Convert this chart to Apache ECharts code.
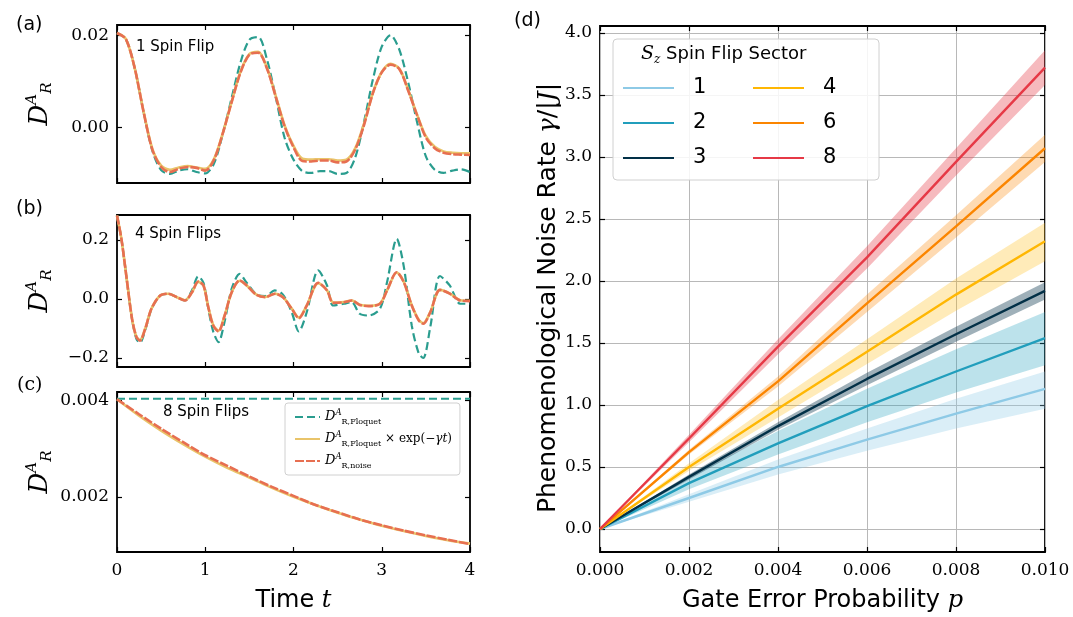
<!DOCTYPE html>
<html><head><meta charset="utf-8">
<script src="https://cdn.jsdelivr.net/npm/echarts@6/dist/echarts.min.js"></script>
<style>html,body{margin:0;padding:0;background:#fff}#c{width:1073px;height:617px}</style>
</head><body><div id="c"></div>
<script>
// ---------- Panel (a): 1 spin flip ----------
const timeA = [0,0.1,0.2,0.3,0.4,0.5,0.6,0.7,0.8,0.9,1.0,1.1,1.2,1.3,1.4,1.5,1.6,1.7,1.8,1.9,2.0,2.1,2.2,2.3,2.4,2.5,2.6,2.7,2.8,2.9,3.0,3.1,3.2,3.3,3.4,3.5,3.6,3.7,3.8,3.9,4.0];
const aFloquet = [0.0206,0.0193,0.0130,0.0035,-0.0050,-0.0093,-0.0101,-0.0094,-0.0091,-0.0097,-0.0100,-0.0078,-0.0013,0.0065,0.0142,0.0191,0.0197,0.0148,0.0065,-0.0023,-0.0070,-0.0095,-0.0099,-0.0095,-0.0095,-0.0101,-0.0099,-0.0065,0.0013,0.0105,0.0176,0.0201,0.0169,0.0098,0.0012,-0.0063,-0.0092,-0.0099,-0.0094,-0.0091,-0.0097];
const aExp = [0.0206,0.0193,0.0130,0.0036,-0.0046,-0.0083,-0.0092,-0.0087,-0.0084,-0.0087,-0.0090,-0.0068,-0.0011,0.0057,0.0122,0.0160,0.0165,0.0130,0.0068,0.0004,-0.0040,-0.0068,-0.0070,-0.0069,-0.0069,-0.0072,-0.0070,-0.0045,0.0009,0.0076,0.0121,0.0139,0.0128,0.0082,0.0028,-0.0019,-0.0042,-0.0052,-0.0055,-0.0056,-0.0056];
const aNoise = [0.0206,0.0193,0.0130,0.0035,-0.0048,-0.0086,-0.0097,-0.0090,-0.0086,-0.0088,-0.0094,-0.0070,-0.0012,0.0056,0.0120,0.0159,0.0163,0.0128,0.0066,0.0002,-0.0043,-0.0073,-0.0074,-0.0072,-0.0072,-0.0076,-0.0074,-0.0048,0.0006,0.0075,0.0120,0.0137,0.0127,0.0080,0.0027,-0.0022,-0.0045,-0.0055,-0.0058,-0.0059,-0.0060];

// ---------- Panel (b): 4 spin flips ----------
const timeB = [0,0.05,0.11,0.17,0.22,0.26,0.32,0.39,0.49,0.58,0.68,0.77,0.85,0.92,0.98,1.03,1.09,1.15,1.22,1.30,1.39,1.47,1.58,1.68,1.79,1.88,1.98,2.06,2.15,2.28,2.38,2.45,2.57,2.66,2.75,2.85,2.98,3.06,3.17,3.25,3.34,3.42,3.47,3.55,3.66,3.77,3.89,4.0];
const bFloquet = [0.283,0.204,0.068,-0.067,-0.135,-0.148,-0.105,-0.035,0.012,0.018,0.006,-0.005,0.030,0.077,0.055,-0.025,-0.110,-0.146,-0.075,0.035,0.085,0.055,0.016,0.010,0.029,0.015,-0.045,-0.110,-0.045,0.097,0.046,-0.022,-0.016,-0.011,-0.050,-0.056,-0.033,0.057,0.204,0.110,-0.090,-0.185,-0.200,-0.095,0.078,0.046,-0.016,-0.016];
const bExp = [0.283,0.204,0.068,-0.066,-0.128,-0.139,-0.100,-0.033,0.012,0.018,0.006,-0.004,0.023,0.058,0.046,-0.021,-0.088,-0.108,-0.055,0.023,0.062,0.046,0.015,0.007,0.018,0.007,-0.032,-0.063,-0.022,0.054,0.030,-0.012,-0.010,-0.005,-0.019,-0.023,-0.015,0.029,0.090,0.058,-0.021,-0.071,-0.082,-0.044,0.031,0.019,-0.004,-0.006];
const bNoise = [0.283,0.204,0.068,-0.067,-0.129,-0.141,-0.101,-0.033,0.012,0.018,0.006,-0.005,0.023,0.059,0.046,-0.022,-0.090,-0.110,-0.056,0.023,0.063,0.046,0.014,0.006,0.018,0.006,-0.033,-0.065,-0.022,0.055,0.029,-0.013,-0.011,-0.005,-0.020,-0.024,-0.016,0.029,0.091,0.057,-0.022,-0.073,-0.084,-0.045,0.031,0.018,-0.005,-0.007];

// ---------- Panel (c): 8 spin flips ----------
const timeC = [0,0.25,0.5,0.75,1.0,1.25,1.5,1.75,2.0,2.25,2.5,2.75,3.0,3.25,3.5,3.75,4.0];
const cFloquet = [0.00403,0.00403,0.00403,0.00403,0.00403,0.00403,0.00403,0.00403,0.00403,0.00403,0.00403,0.00403,0.00403,0.00403,0.00403,0.00403,0.00403];
const cExp = [0.00402,0.00368,0.00337,0.00309,0.00283,0.00260,0.00240,0.00219,0.00200,0.00183,0.00167,0.00153,0.00140,0.00129,0.00119,0.00110,0.00103];
const cNoise = [0.00402,0.00371,0.00341,0.00313,0.00286,0.00264,0.00242,0.00221,0.00202,0.00183,0.00168,0.00153,0.00141,0.00130,0.00120,0.00111,0.00102];

// ---------- Panel (d): noise rate vs gate error ----------
const pAxis = [0, 0.002, 0.004, 0.006, 0.008, 0.010];
const sectorNames = ['1','2','3','4','6','8'];
const sec1 = [0, 0.25, 0.50, 0.72, 0.93, 1.13];
const sec1Lo = [0, 0.22, 0.44, 0.63, 0.81, 0.97];
const sec1Hi = [0, 0.28, 0.56, 0.81, 1.05, 1.27];
const sec2 = [0, 0.37, 0.69, 0.99, 1.27, 1.54];
const sec2Lo = [0, 0.32, 0.60, 0.86, 1.10, 1.32];
const sec2Hi = [0, 0.42, 0.79, 1.13, 1.45, 1.75];
const sec3 = [0, 0.42, 0.83, 1.21, 1.57, 1.92];
const sec3Lo = [0, 0.40, 0.80, 1.16, 1.51, 1.85];
const sec3Hi = [0, 0.44, 0.86, 1.26, 1.63, 1.99];
const sec4 = [0, 0.50, 0.97, 1.43, 1.89, 2.32];
const sec4Lo = [0, 0.47, 0.90, 1.33, 1.76, 2.16];
const sec4Hi = [0, 0.53, 1.04, 1.53, 2.02, 2.47];
const sec6 = [0, 0.62, 1.19, 1.82, 2.44, 3.07];
const sec6Lo = [0, 0.60, 1.15, 1.75, 2.35, 2.96];
const sec6Hi = [0, 0.64, 1.23, 1.89, 2.53, 3.18];
const sec8 = [0, 0.73, 1.47, 2.19, 2.96, 3.72];
const sec8Lo = [0, 0.70, 1.41, 2.10, 2.85, 3.58];
const sec8Hi = [0, 0.76, 1.53, 2.28, 3.07, 3.86];

const ticksA = [0, 0.02];
const ticksB = [-0.2, 0.0, 0.2];
const ticksC = [0.002, 0.004];
const ticksDY = [0,0.5,1.0,1.5,2.0,2.5,3.0,3.5,4.0];

// ---------- styling ----------
const TEAL = '#2a9d8f', YEL = '#e9c46a', ORG = '#e76f51';
const secColors = ['#8ecae6','#219ebc','#023047','#ffb703','#fb8500','#e63946'];
const secBand = ['rgba(142,202,230,0.33)','rgba(33,158,188,0.3)','rgba(2,48,71,0.38)','rgba(255,183,3,0.28)','rgba(251,133,0,0.3)','rgba(230,57,70,0.35)'];
const SERIF = 'DejaVu Serif', SANS = 'DejaVu Sans';
const minus = s => String(s).replace('-', '\u2212');

const grids = [
  {left:117, top:25, width:353, height:158},
  {left:117, top:215, width:353, height:152},
  {left:117, top:392, width:353, height:160},
  {left:600, top:26, width:445, height:526}
].map(g => Object.assign({show:true, borderColor:'#000', borderWidth:1.8, backgroundColor:'transparent',
  containLabel:false, outerBoundsMode:'none'}, g));

const tickStyle = {inside:true, length:5, lineStyle:{color:'#000', width:1.2}};
const labelStyle = {color:'#000', fontFamily:SERIF, fontSize:17};

function xAxisPair(gi, min, max, interval, showLabel, fmt, split, name) {
  const base = {type:'value', gridIndex:gi, min, max, interval, axisLine:{show:false, onZero:false}};
  return [
    Object.assign({}, base, {position:'bottom',
      axisTick:Object.assign({}, tickStyle),
      axisLabel:Object.assign({show:showLabel, margin:10, formatter:fmt}, labelStyle),
      splitLine:{show:split, lineStyle:{color:'#b8b8b8', width:1}},
      name:name || '', nameLocation:'middle', nameGap:37,
      nameTextStyle:{fontFamily:SANS, fontSize:24, color:'#000', rich:{i:{fontFamily:SERIF, fontStyle:'italic', fontSize:24, color:'#000'}}}
    }),
    Object.assign({}, base, {position:'top', axisTick:Object.assign({}, tickStyle), axisLabel:{show:false}, splitLine:{show:false}})
  ];
}
function yAxisPair(gi, min, max, ticks, fmt, split, name, nameGap, nameStyle) {
  const base = {type:'value', gridIndex:gi, min, max, axisLine:{show:false, onZero:false}};
  return [
    Object.assign({}, base, {position:'left',
      axisTick:Object.assign({customValues:ticks}, tickStyle),
      axisLabel:Object.assign({customValues:ticks, margin:8, formatter:fmt}, labelStyle),
      splitLine:{show:split, lineStyle:{color:'#b8b8b8', width:1}},
      name:name, nameLocation:'middle', nameRotate:90, nameGap:nameGap, nameTextStyle:nameStyle
    }),
    Object.assign({}, base, {position:'right', axisTick:Object.assign({customValues:ticks}, tickStyle), axisLabel:{show:false}, splitLine:{show:false}})
  ];
}
const dName = {fontFamily:SERIF, color:'#000', rich:{
  d:{fontFamily:SERIF, fontStyle:'italic', fontSize:26, color:'#000', lineHeight:30},
  s:{fontFamily:SERIF, fontStyle:'italic', fontSize:15, color:'#000', verticalAlign:'top', lineHeight:30},
  r:{fontFamily:SERIF, fontStyle:'italic', fontSize:15, color:'#000', verticalAlign:'bottom', lineHeight:30}}};
const DR = '{d|D}{s|A}{r|R}';

const xAxes = [].concat(
  xAxisPair(0, 0, 4, 1, false, v=>v, false),
  xAxisPair(1, 0, 4, 1, false, v=>v, false),
  xAxisPair(2, 0, 4, 1, true, v=>String(v), false, 'Time {i|t}'),
  xAxisPair(3, 0, 0.01, 0.002, true, v=>v.toFixed(3), true, 'Gate Error Probability {i|p}')
);
const yAxes = [].concat(
  yAxisPair(0, -0.01209, 0.02233, ticksA, v=>v.toFixed(2), false, DR, 62, dName),
  yAxisPair(1, -0.2306, 0.285, ticksB, v=>minus(v.toFixed(1)), false, DR, 62, dName),
  yAxisPair(2, 0.000857, 0.00417, ticksC, v=>v.toFixed(3), false, DR, 62, dName),
  yAxisPair(3, -0.1855, 4.056, ticksDY, v=>v.toFixed(1), true, '', 39, {})
);

function pairs(ts, vs) { return ts.map((t, i) => [t, vs[i]]); }
function lineSeries(name, axis, ts, vs, color, width, type, z, smooth) {
  return {name, type:'line', xAxisIndex:axis*2, yAxisIndex:axis*2, data:pairs(ts, vs), showSymbol:false, symbol:'none',
    smooth: smooth, z:z, animation:false, lineStyle:{color, width, type}, itemStyle:{color}, clip:true};
}

const series = [];
// (a)
series.push(lineSeries('aF', 0, timeA, aFloquet, TEAL, 2.2, [8,4], 2, 0.3));
series.push(lineSeries('aE', 0, timeA, aExp, YEL, 2.6, 'solid', 3, 0.3));
series.push(lineSeries('aN', 0, timeA, aNoise, ORG, 2.6, [9,2], 4, 0.3));
// (b)
series.push(lineSeries('bF', 1, timeB, bFloquet, TEAL, 2.2, [8,4], 2, 0.3));
series.push(lineSeries('bE', 1, timeB, bExp, YEL, 2.6, 'solid', 3, 0.3));
series.push(lineSeries('bN', 1, timeB, bNoise, ORG, 2.6, [9,2], 4, 0.3));
// (c)
series.push(lineSeries('cF', 2, timeC, cFloquet, TEAL, 2.2, [8,4], 2, false));
series.push(lineSeries('cE', 2, timeC, cExp, YEL, 2.6, 'solid', 3, 0.3));
series.push(lineSeries('cN', 2, timeC, cNoise, ORG, 2.6, [9,2], 4, 0.2));

// (d) bands then lines
const secVals = [sec1, sec2, sec3, sec4, sec6, sec8];
const secLo = [sec1Lo, sec2Lo, sec3Lo, sec4Lo, sec6Lo, sec8Lo];
const secHi = [sec1Hi, sec2Hi, sec3Hi, sec4Hi, sec6Hi, sec8Hi];
secVals.forEach((vals, k) => {
  const lo = secLo[k], hi = secHi[k];
  series.push({type:'custom', name:'band'+k, xAxisIndex:6, yAxisIndex:6, data:[[0,0]], z:1+k*0.01, animation:false, clip:true, silent:true,
    renderItem: function(params, api) {
      const pts = [];
      for (let i = 0; i < pAxis.length; i++) pts.push(api.coord([pAxis[i], hi[i]]));
      for (let i = pAxis.length - 1; i >= 0; i--) pts.push(api.coord([pAxis[i], lo[i]]));
      return {type:'polygon', shape:{points:pts}, style:{fill:secBand[k], stroke:'none'}};
    }});
});
secVals.forEach((vals, k) => {
  series.push({name:'s'+sectorNames[k], type:'line', xAxisIndex:6, yAxisIndex:6, data:pairs(pAxis, vals), showSymbol:false, symbol:'none',
    z:5, animation:false, lineStyle:{color:secColors[k], width:2.4}, itemStyle:{color:secColors[k]}});
});

const legendRichC = {
  d:{fontFamily:SERIF, fontStyle:'italic', fontSize:13, color:'#000', lineHeight:18},
  s:{fontFamily:SERIF, fontStyle:'italic', fontSize:8.5, color:'#000', verticalAlign:'top', lineHeight:18},
  r:{fontFamily:SERIF, fontSize:8, color:'#000', verticalAlign:'bottom', lineHeight:18},
  t:{fontFamily:SERIF, fontSize:12, color:'#000', lineHeight:18},
  i:{fontFamily:SERIF, fontStyle:'italic', fontSize:12, color:'#000', lineHeight:18}
};
const legendTextC = {
  cF:'{d|D}{s|A}{r|R,Floquet}',
  cE:'{d|D}{s|A}{r|R,Floquet}{t| × exp(−}{i|γt}{t|)}',
  cN:'{d|D}{s|A}{r|R,noise}'
};

const option = {
  animation:false,
  backgroundColor:'#fff',
  grid:grids,
  xAxis:xAxes,
  yAxis:yAxes,
  series:series,
  legend:[
    {data:['cF','cE','cN'], orient:'vertical', left:285, top:403, itemWidth:25, itemHeight:10, itemGap:4,
      padding:[5,8,5,9], borderColor:'#d0d0d0', borderWidth:1, borderRadius:3, backgroundColor:'rgba(255,255,255,0.85)',
      itemStyle:{opacity:0},
      formatter:n=>legendTextC[n], textStyle:{rich:legendRichC}, selectedMode:false},
    {data:sectorNames.map(s=>'s'+s), orient:'vertical', left:613, top:39, height:92, itemWidth:51, itemHeight:14, itemGap:13,
      padding:[38,10,11,9], borderColor:'#d0d0d0', borderWidth:1, borderRadius:4, backgroundColor:'rgba(255,255,255,0.85)',
      itemStyle:{opacity:0},
      formatter:n=>n.slice(1), selectedMode:false,
      textStyle:{fontFamily:SANS, fontSize:21, color:'#000', lineHeight:22, width:46, padding:[0,0,0,14]}}
  ],
  graphic:[
    {type:'text', left:16, top:16, style:{text:'(a)', font:'19px "DejaVu Sans"', fill:'#000'}},
    {type:'text', left:16, top:200, style:{text:'(b)', font:'19px "DejaVu Sans"', fill:'#000'}},
    {type:'text', left:17, top:376, style:{text:'(c)', font:'19px "DejaVu Serif"', fill:'#000'}},
    {type:'text', left:514, top:12, style:{text:'(d)', font:'19px "DejaVu Sans"', fill:'#000'}},
    {type:'text', left:136, top:40, style:{text:'1 Spin Flip', font:'15px "DejaVu Sans"', fill:'#000'}},
    {type:'text', left:135, top:227, style:{text:'4 Spin Flips', font:'15px "DejaVu Sans"', fill:'#000'}},
    {type:'text', left:163, top:405, style:{text:'8 Spin Flips', font:'15px "DejaVu Sans"', fill:'#000'}},
    {type:'text', x:548, y:298, rotation:Math.PI/2, style:{text:'Phenomenological Noise Rate {m|γ}/|{m|J}|',
      font:'25px "DejaVu Sans"', fill:'#000', align:'center', verticalAlign:'middle',
      rich:{m:{fontFamily:SERIF, fontStyle:'italic', fontSize:25, fill:'#000'}}}},
    {type:'text', left:641, top:45, z:100, style:{text:'{s|S}{z|z} Spin Flip Sector', font:'18px "DejaVu Sans"', fill:'#000',
      rich:{s:{fontFamily:SERIF, fontStyle:'italic', fontSize:19, fill:'#000', lineHeight:22},
            z:{fontFamily:SERIF, fontStyle:'italic', fontSize:12, fill:'#000', verticalAlign:'bottom', lineHeight:22}}}}
  ]
};
const chart = echarts.init(document.getElementById('c'), null, {renderer:'canvas'});
chart.setOption(option);
</script>
</body></html>
